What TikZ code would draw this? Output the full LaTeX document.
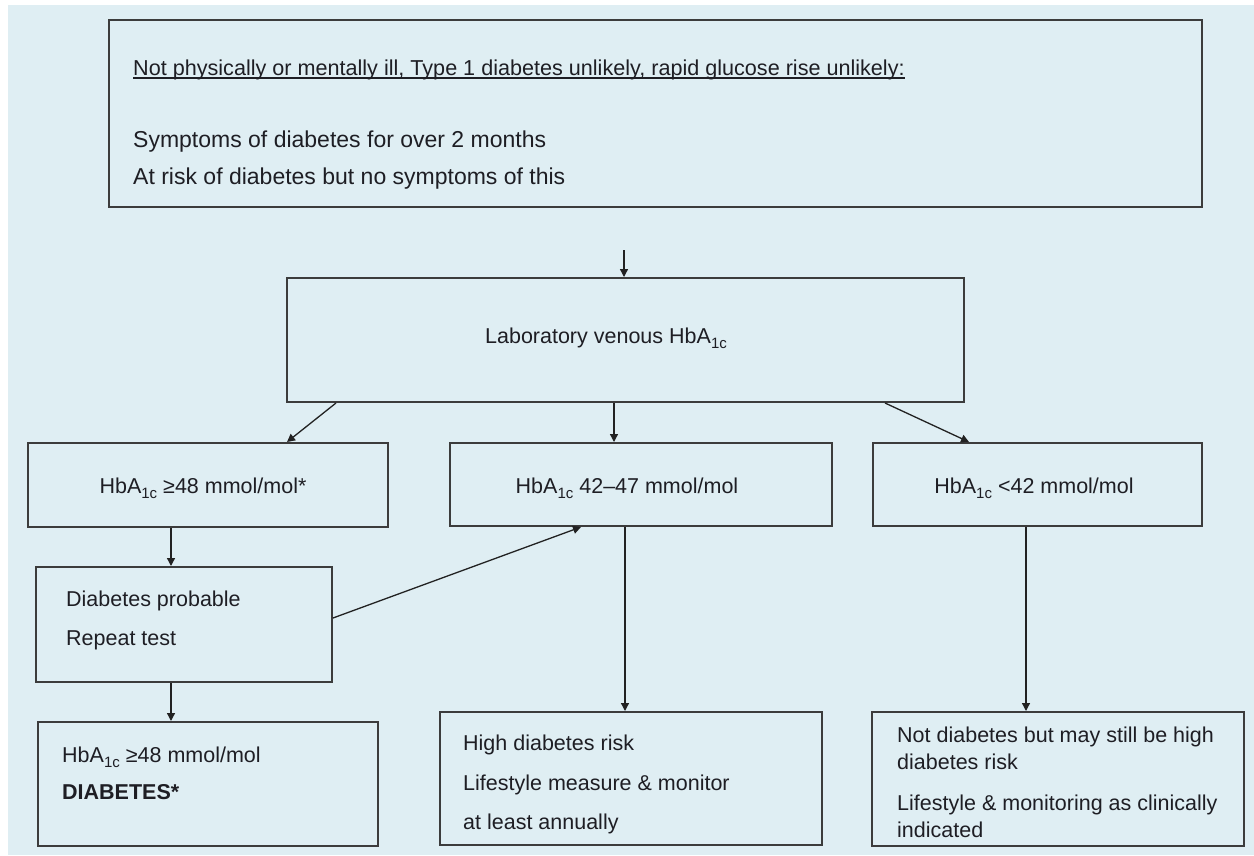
\documentclass[tikz,border=0pt]{standalone}
\usepackage{fontspec}
\setmainfont{Liberation Sans}
\usetikzlibrary{arrows.meta}
\definecolor{bgblue}{HTML}{DFEEF3}
\definecolor{boxline}{HTML}{3C3C3C}
\definecolor{txt}{HTML}{1E1E24}
\definecolor{arrc}{HTML}{222222}
\newcommand{\hsub}[1]{\raisebox{-0.45ex}{\fontsize{15}{15}\selectfont #1}}
\begin{document}
\begin{tikzpicture}[x=1pt,y=-1pt,
  box/.style={draw=boxline,line width=2pt,rectangle,inner sep=0pt},
  lbl/.style={anchor=base west,inner sep=0pt,text=txt,font=\fontsize{21.5}{26}\selectfont},
  clbl/.style={anchor=base,inner sep=0pt,text=txt,font=\fontsize{21.5}{26}\selectfont},
  toplbl/.style={anchor=base west,inner sep=0pt,text=txt,font=\fontsize{23}{28}\selectfont},
  arr/.style={draw=arrc,line width=1.3pt,-{Triangle[length=8pt,width=8pt]}}]
\useasboundingbox (0,0) rectangle (1254,856);
\fill[bgblue] (8,5) rectangle (1254,855);
% boxes
\node[box,minimum width=1093,minimum height=187] (top) at (655.5,113.5) {};
\node[box,minimum width=677,minimum height=124] (lab) at (625.5,340) {};
\node[box,minimum width=360,minimum height=84] (A) at (208,485) {};
\node[box,minimum width=382,minimum height=83] (B) at (641,484.5) {};
\node[box,minimum width=329,minimum height=83] (C) at (1037.5,484.5) {};
\node[box,minimum width=296,minimum height=115] (DP) at (184,624.5) {};
\node[box,minimum width=340,minimum height=124] (D) at (208,784) {};
\node[box,minimum width=382,minimum height=133] (E) at (631,778.5) {};
\node[box,minimum width=372,minimum height=134] (F) at (1058,779) {};
% texts
\node[toplbl,font=\fontsize{21.6}{26}\selectfont] (t1) at (133,76) {Not physically or mentally ill, Type 1 diabetes unlikely, rapid glucose rise unlikely:};
\draw[txt,line width=2.5pt] ([yshift=-2pt]t1.base west) -- ([yshift=-2pt]t1.base east);
\node[toplbl] (t2) at (133,148) {Symptoms of diabetes for over 2 months};
\node[toplbl] (t3) at (133,185) {At risk of diabetes but no symptoms of this};
\node[clbl] (tlab) at (606,343) {Laboratory venous HbA\hsub{1c}};
\node[clbl] (tA) at (203,493) {HbA\hsub{1c} ≥48 mmol/mol*};
\node[clbl] (tB) at (627,493) {HbA\hsub{1c} 42–47 mmol/mol};
\node[clbl] (tC) at (1034,493) {HbA\hsub{1c} <42 mmol/mol};
\node[lbl] (tDP1) at (66,606) {Diabetes probable};
\node[lbl] (tDP2) at (66,645) {Repeat test};
\node[lbl] (tD1) at (62,762) {HbA\hsub{1c} ≥48 mmol/mol};
\node[lbl,font=\fontsize{21.5}{26}\selectfont\bfseries] (tD2) at (62,799) {DIABETES*};
\node[lbl] (tE1) at (463,750) {High diabetes risk};
\node[lbl] (tE2) at (463,790) {Lifestyle measure \& monitor};
\node[lbl] (tE3) at (463,829) {at least annually};
\node[lbl] (tF1) at (897,742) {Not diabetes but may still be high};
\node[lbl] (tF2) at (897,769) {diabetes risk};
\node[lbl] (tF3) at (897,810) {Lifestyle \& monitoring as clinically};
\node[lbl] (tF4) at (897,837) {indicated};
% connectors
\coordinate (tarr) at (624,250);
\draw[arr] (tarr) -- (tarr |- lab.north);
\draw[arr] ([xshift=50pt]lab.south west) -- ([xshift=260pt]A.north west);
\draw[arr] ([xshift=328pt]lab.south west) -- ([xshift=328pt]lab.south west |- B.north);
\draw[arr] ([xshift=-80pt]lab.south east) -- ([xshift=97pt]C.north west);
\draw[arr] ([xshift=144pt]A.south west) -- ([xshift=144pt]A.south west |- DP.north);
\draw[arr] ([yshift=6.5pt]DP.east) -- ([xshift=132pt]B.south west);
\draw[arr] ([xshift=136pt]DP.south west) -- ([xshift=136pt]DP.south west |- D.north);
\draw[arr] ([xshift=176pt]B.south west) -- ([xshift=176pt]B.south west |- E.north);
\draw[arr] ([xshift=154pt]C.south west) -- ([xshift=154pt]C.south west |- F.north);
\end{tikzpicture}
\end{document}
